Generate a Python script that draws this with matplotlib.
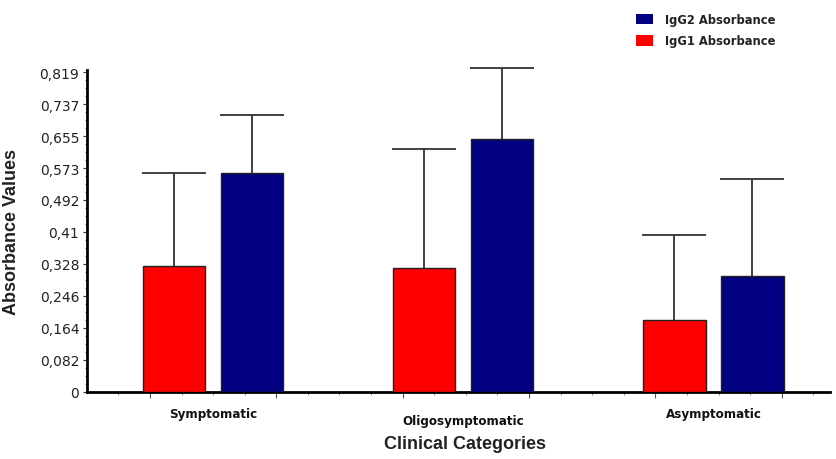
import matplotlib
matplotlib.use("Agg")
import matplotlib.pyplot as plt
import matplotlib.ticker as ticker
import matplotlib.transforms as mtransforms
from matplotlib.patches import Patch
import numpy as np

# ---- data ----
categories = ["Symptomatic", "Oligosymptomatic", "Asymptomatic"]
igg1_values = [0.323, 0.317, 0.184]
igg1_errors = [0.237, 0.306, 0.217]
igg2_values = [0.560, 0.648, 0.296]
igg2_errors = [0.150, 0.182, 0.249]
y_tick_values = [0, 0.082, 0.164, 0.246, 0.328, 0.41, 0.492, 0.573, 0.655, 0.737, 0.819]
y_tick_labels = ["0", "0,082", "0,164", "0,246", "0,328", "0,41", "0,492", "0,573", "0,655", "0,737", "0,819"]
series_labels = ["IgG1 Absorbance", "IgG2 Absorbance"]

RED = "#FF0000"
NAVY = "#000080"

fig = plt.figure(figsize=(8.36, 4.6), dpi=100)
ax = fig.add_axes([87 / 836, 67.5 / 460, 743 / 836, 321.8 / 460])

x = np.arange(len(categories))
width = 0.25
off = 0.156

ax.bar(x - off, igg1_values, width, color=RED, edgecolor="#222222", linewidth=1.0, zorder=3)
ax.bar(x + off, igg2_values, width, color=NAVY, edgecolor="#222222", linewidth=1.0, zorder=3)

err_kw = dict(fmt="none", ecolor="#333333", elinewidth=1.3, capsize=23, capthick=1.3, zorder=2)
for vals, errs, pos in ((igg1_values, igg1_errors, x - off), (igg2_values, igg2_errors, x + off)):
    e = ax.errorbar(pos, vals, yerr=[np.zeros(len(x)), errs], **err_kw)
    plotline, caplines, barlinecols = e.lines
    if len(caplines) >= 2:
        caplines[0].set_visible(False)
    for art in list(caplines) + list(barlinecols):
        art.set_clip_on(False)

ax.set_xlim(-0.503, 2.466)
ax.set_ylim(0, 0.826)

# spines
for s in ("top", "right"):
    ax.spines[s].set_visible(False)
for s in ("left", "bottom"):
    ax.spines[s].set_linewidth(2.0)
    ax.spines[s].set_color("black")

# y ticks
ax.yaxis.set_major_locator(ticker.FixedLocator(y_tick_values))
ax.yaxis.set_major_formatter(ticker.FixedFormatter(y_tick_labels))
ax.yaxis.set_minor_locator(ticker.MultipleLocator(0.0205))
ax.tick_params(axis="y", which="major", length=3, width=0.8, pad=2.5,
               labelsize=10, colors="#333333", labelcolor="#222222")
ax.tick_params(axis="y", which="minor", length=1.5, width=0.6, colors="#555555")
for lbl in ax.get_yticklabels():
    lbl.set_family("DejaVu Sans")

# x decorative ticks
ax.xaxis.set_major_locator(ticker.MultipleLocator(0.505, offset=-0.2516))
ax.xaxis.set_minor_locator(ticker.MultipleLocator(0.12625, offset=-0.2516))
ax.xaxis.set_major_formatter(ticker.NullFormatter())
ax.tick_params(axis="x", which="major", length=4, width=0.8, colors="#555555")
ax.tick_params(axis="x", which="minor", length=2, width=0.6, colors="#777777")

# category labels
trans = mtransforms.blended_transform_factory(ax.transData, ax.transAxes)
label_y = [-0.067, -0.089, -0.067]
for xi, cat, ly in zip(x, categories, label_y):
    ax.text(xi, ly, cat, transform=trans, ha="center", va="center",
            fontsize=8.6, fontweight="bold", family="DejaVu Sans", color="#111111")

# axis titles
ax.set_ylabel("Absorbance Values", fontsize=13, fontweight="bold",
              family=["Liberation Sans", "DejaVu Sans"], color="#222222")
ax.yaxis.set_label_coords(-0.090, 0.5)
fig.text(465 / 836, 1 - 445 / 460, "Clinical Categories", ha="center", va="center",
         fontsize=13, fontweight="bold", family=["Liberation Sans", "DejaVu Sans"], color="#222222")

# legend (IgG2 on top)
handles = [Patch(facecolor=NAVY, edgecolor="none"), Patch(facecolor=RED, edgecolor="none")]
leg = fig.legend(handles, [series_labels[1], series_labels[0]], loc="upper left",
                 bbox_to_anchor=(636 / 836, 1 - 14.0 / 460), bbox_transform=fig.transFigure,
                 frameon=False, borderpad=0, borderaxespad=0, handlelength=1.48,
                 handleheight=1.04, handletextpad=1.0, labelspacing=0.72,
                 prop={"family": "DejaVu Sans", "weight": "bold", "size": 8.3})
for t in leg.get_texts():
    t.set_color("#222222")

fig.savefig("out.png", dpi=100)
